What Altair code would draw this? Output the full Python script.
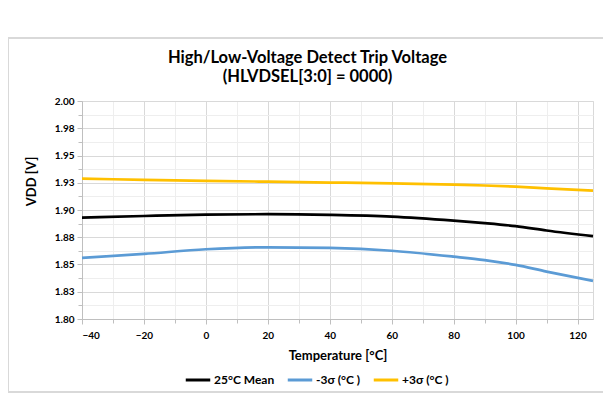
import altair as alt
import pandas as pd

temps = [-40, -20, 0, 20, 40, 60, 80, 90, 100, 110, 125]
mean_25c = [1.8930, 1.8945, 1.8958, 1.8962, 1.8956, 1.8940, 1.8903, 1.8880, 1.8852, 1.8812, 1.8760]
minus_3s = [1.8560, 1.8597, 1.8640, 1.8658, 1.8652, 1.8626, 1.8572, 1.8540, 1.8496, 1.8435, 1.8350]
plus_3s = [1.9287, 1.9277, 1.9267, 1.9260, 1.9252, 1.9245, 1.9233, 1.9225, 1.9214, 1.9198, 1.9177]

series_names = ["25°C Mean", "-3σ (°C )", "+3σ (°C )"]
series_colors = ["#000000", "#5b9bd5", "#ffc000"]

x_major = [-40, -20, 0, 20, 40, 60, 80, 100, 120]
x_minor = [-30, -10, 10, 30, 50, 70, 90, 110]
y_major = [1.8, 1.825, 1.85, 1.875, 1.9, 1.925, 1.95, 1.975, 2.0]
y_minor = [1.8125, 1.8375, 1.8625, 1.8875, 1.9125, 1.9375, 1.9625, 1.9875]

rows = []
for name, vals in zip(series_names, [mean_25c, minus_3s, plus_3s]):
    for t, v in zip(temps, vals):
        rows.append({"T": t, "V": v, "series": name})
df = pd.DataFrame(rows)

FONT = "Lato"
xscale = alt.Scale(domain=[-40, 125], nice=False, zero=False)
yscale = alt.Scale(domain=[1.8, 2.0], nice=False, zero=False)

minor = alt.Chart(df).mark_line(opacity=0).encode(
    x=alt.X("T:Q", scale=xscale,
            axis=alt.Axis(orient="bottom", values=x_minor, grid=True, gridColor="#eeeeee",
                          labels=False, domain=False, ticks=True, tickSize=4,
                          tickColor="#bfbfbf", title=None)),
    y=alt.Y("V:Q", scale=yscale,
            axis=alt.Axis(orient="left", values=y_minor, grid=True, gridColor="#eeeeee",
                          labels=False, domain=False, ticks=True, tickSize=4,
                          tickColor="#bfbfbf", title=None)),
)

lines = alt.Chart(df).mark_line(strokeWidth=2.7, interpolate="monotone").encode(
    x=alt.X("T:Q", scale=xscale,
            axis=alt.Axis(orient="bottom", values=x_major, grid=True, gridColor="#d9d9d9",
                          domainColor="#bfbfbf", tickColor="#bfbfbf", tickSize=5,
                          labelFont=FONT, labelFontWeight="bold", labelFontSize=10,
                          labelColor="#000000", labelPadding=6,
                          title="Temperature [°C]", titleFont=FONT, titleFontSize=13,
                          titleFontWeight="bold", titleColor="#000000", titlePadding=9)),
    y=alt.Y("V:Q", scale=yscale,
            axis=alt.Axis(orient="left", values=y_major, grid=True, gridColor="#d9d9d9",
                          domainColor="#bfbfbf", tickColor="#bfbfbf", tickSize=5,
                          labelExpr="format(datum.value + 0.0001, '.2f')",
                          labelFont=FONT, labelFontWeight="bold", labelFontSize=10,
                          labelColor="#000000", labelPadding=3,
                          title="VDD [V]", titleFont=FONT, titleFontSize=13,
                          titleFontWeight="bold", titleColor="#000000",
                          titleX=-44, titleY=80)),
    color=alt.Color("series:N", sort=series_names,
                    scale=alt.Scale(domain=series_names, range=series_colors),
                    legend=alt.Legend(title=None, orient="none", direction="horizontal",
                                      legendX=102, legendY=265, symbolType="stroke",
                                      symbolSize=600, symbolStrokeWidth=3,
                                      labelFont=FONT, labelFontSize=12, labelFontWeight="bold",
                                      labelColor="#000000", columnPadding=6, labelOffset=2)),
)

frame_df = pd.DataFrame({"a": [0]})
frame_top = alt.Chart(frame_df).mark_rule(color="#d9d9d9", strokeWidth=2).encode(
    x=alt.value(-74), x2=alt.value(522), y=alt.value(-63))
frame_bottom = alt.Chart(frame_df).mark_rule(color="#d9d9d9", strokeWidth=2).encode(
    x=alt.value(-74), x2=alt.value(522), y=alt.value(291))
frame_left = alt.Chart(frame_df).mark_rule(color="#d9d9d9", strokeWidth=2).encode(
    x=alt.value(-74), y=alt.value(-63), y2=alt.value(291))

chart = alt.layer(minor, lines, frame_top, frame_bottom, frame_left).resolve_axis(
    x="independent", y="independent"
).properties(
    width=511, height=218,
    autosize=alt.AutoSizeParams(type="none"),
    padding={"left": 74, "top": 93, "right": 10, "bottom": 75},
    title=alt.TitleParams(
        ["High/Low-Voltage Detect Trip Voltage", "(HLVDSEL[3:0] = 0000)"],
        font=FONT, fontSize=16.5, fontWeight="bold", color="#000000",
        anchor="middle", dx=-30, offset=-48, lineHeight=19),
).configure_view(stroke="#d9d9d9")

chart.save("out.html", embed_options={"renderer": "svg", "actions": False})
